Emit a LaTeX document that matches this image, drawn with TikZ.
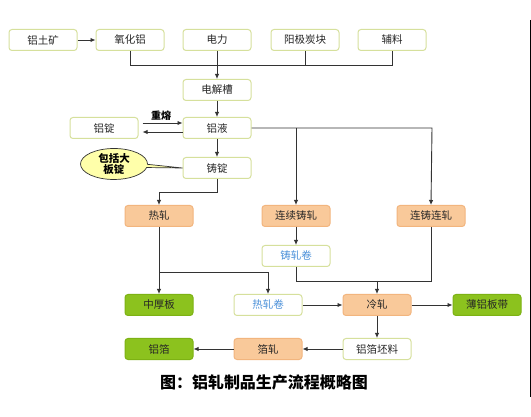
\documentclass[tikz,border=0pt]{standalone}
\usepackage{fontspec}
\setmainfont{Noto Sans CJK SC}
\usetikzlibrary{shapes.callouts,arrows.meta}
\definecolor{boxline}{HTML}{D6E09C}
\definecolor{orfill}{HTML}{F9C99A}
\definecolor{orline}{HTML}{F2B57E}
\definecolor{grfill}{HTML}{8CC21E}
\definecolor{grline}{HTML}{7DB214}
\definecolor{bluetxt}{HTML}{4A90D9}
\definecolor{linec}{HTML}{333333}
\definecolor{callfill}{HTML}{FFFFAA}
\tikzset{
  pbox/.style={draw=boxline, line width=1pt, rounded corners=3pt, fill=white,
    minimum width=68pt, minimum height=21pt, inner sep=0pt, font=\fontsize{10.5}{11}\selectfont, text=black!85},
  obox/.style={pbox, fill=orfill, draw=orline},
  gbox/.style={pbox, fill=grfill, draw=grline},
  bbox/.style={pbox, text=bluetxt},
  conn/.style={draw=linec, line width=0.9pt},
  arr/.style={conn, -{Latex[length=5pt,width=4.5pt]}},
}
\begin{document}
\begin{tikzpicture}[x=1pt,y=-1pt]
\useasboundingbox[fill=white] (0,0) rectangle (531,417);
% row 1
\node[pbox] (ltk) at (43,40) {铝土矿};
\node[pbox] (yhl) at (130,40) {氧化铝};
\node[pbox] (dl)  at (217,40) {电力};
\node[pbox] (yj)  at (305,40) {阳极炭块};
\node[pbox] (fl)  at (392,40) {辅料};
\node[pbox] (djc) at (217,90) {电解槽};
\node[pbox] (lq)  at (217,128) {铝液};
\node[pbox] (ld)  at (104,128) {铝锭};
\node[pbox] (zd)  at (217,168) {铸锭};
\node[obox] (rz)  at (159,216) {热轧};
\node[obox] (lxzz) at (296,216) {连续铸轧};
\node[obox] (lzlz) at (431,216) {连铸连轧};
\node[bbox] (zzj) at (296,256) {铸轧卷};
\node[gbox] (zhb) at (159,305) {中厚板};
\node[bbox] (rzj) at (268,305) {热轧卷};
\node[obox] (lz)  at (377,305) {冷轧};
\node[gbox] (bl)  at (487,305) {薄铝板带};
\node[gbox] (lb)  at (159,349) {铝箔};
\node[obox] (bz)  at (268,349) {箔轧};
\node[pbox] (bp)  at (377,349) {铝箔坯料};
% callout
\node[ellipse callout, draw=linec, line width=0.7pt, fill=callfill,
  minimum width=67pt, minimum height=31pt, inner sep=0pt,
  callout absolute pointer={(zd.west)}, callout pointer arc=12,
  align=center, font=\fontsize{10.5}{11.5}\selectfont\bfseries] (cl) at (114,164) {包括大\\板锭};
% label
\node[font=\fontsize{10}{10}\selectfont\bfseries, inner sep=0pt] (cr) at (161,116) {重熔};
% connectors
\coordinate (bus) at (392,65);
\draw[arr] (ltk) -- (yhl);
\draw[conn] (yhl.south) |- (bus) -- (fl.south);
\draw[conn] (yj.south) -- (yj.south |- bus);
\draw[arr] (dl) -- (djc);
\draw[arr] (djc) -- (lq);
\draw[arr] ([xshift=4pt,yshift=5pt]ld.east) -- ([yshift=5pt]lq.west);
\draw[arr] ([yshift=-4pt]lq.west) -- ([xshift=4pt,yshift=-4pt]ld.east);
\draw[arr] (lq) -- (zd);
\coordinate (zdb) at (217,192);
\draw[arr] (zd.south) -- (zdb) -| (rz.north);
\coordinate (lqr) at (432,128);
\draw[arr] (lq.east) -- (lqr) -- (lzlz.north);
\draw[arr] (lxzz.north |- lqr) -- (lxzz.north);
\draw[arr] (lxzz) -- (zzj);
\coordinate (j1) at (377,281);
\draw[conn] (zzj.south) |- (j1);
\draw[conn] (lzlz.south) |- (j1);
\draw[arr] (j1) -- (lz.north);
\coordinate (j2) at (159,272);
\draw[arr] (rz.south) -- (zhb.north);
\draw[arr] (j2) -| (rzj.north);
\draw[arr] (rzj) -- (lz);
\draw[arr] (lz) -- (bl);
\draw[arr] (lz) -- (bp);
\draw[arr] (bp) -- (bz);
\draw[arr] (bz) -- (lb);
% caption
\node[font=\fontsize{16}{17}\selectfont\bfseries, inner sep=0pt] (cap) at (264,382) {图：铝轧制品生产流程概略图};
% right frame edge
\draw[line width=1pt, black] (530,20) -- (530,397);
\end{tikzpicture}
\end{document}
